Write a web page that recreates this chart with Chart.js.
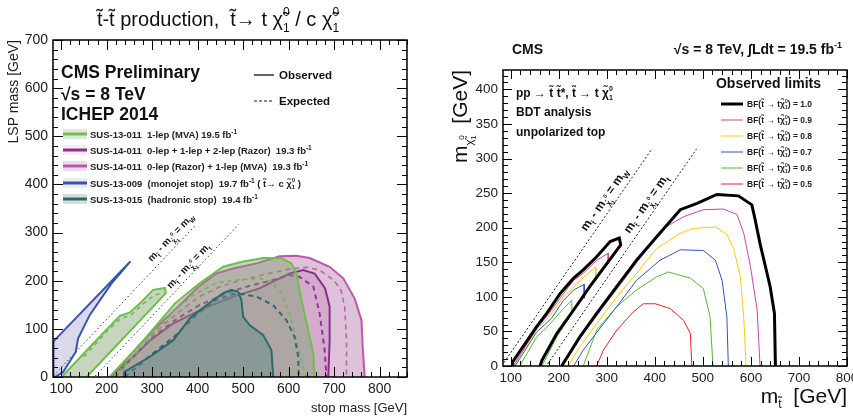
<!DOCTYPE html>
<html lang="en">
<head>
    <meta charset="UTF-8">
    <title>Stop pair production limits</title>
    <style>
        * { margin: 0; padding: 0; box-sizing: border-box; }
        body {
            width: 853px;
            height: 419px;
            overflow: hidden;
            background: #FFFFFF;
            position: relative;
            font-family: 'Liberation Sans', Arial, sans-serif;
        }
        .panel { position: absolute; top: 0; height: 419px; }
        #left { left: 0; width: 425px; }
        #right { left: 425px; width: 445px; }
    </style>
</head>
<body>
    <div class="panel" id="left"><canvas id="chart1"></canvas></div>
    <div class="panel" id="right"><canvas id="chart2"></canvas></div>

    <script src="https://cdn.jsdelivr.net/npm/chart.js@4.4.0/dist/chart.umd.min.js"></script>
    <script>
        // ---------- left panel: summary of limits (stop mass, LSP mass) ----------
        const leftXTicks = [100, 200, 300, 400, 500, 600, 700, 800];
        const leftYTicks = [0, 100, 200, 300, 400, 500, 600, 700];

        const sus13015Obs = [[236,0],[238,10],[295,42],[346,76],[383,122],[419,149],[456,174],[474,181],[489,177],[496,160],[500,125],[514,108],[544,87],[562,56],[566,0]];
        const sus13015Exp = [[240,0],[300,48],[350,85],[400,132],[440,160],[485,174],[529,167],[566,149],[595,118],[613,83],[621,42],[622,0]];
        const sus13011Obs = [[207,0],[280,75],[350,153],[390,184],[405,195],[456,229],[500,240],[544,247],[584,247],[606,236],[617,215],[628,160],[643,97],[654,49],[657,0]];
        const sus13011Exp = [[215,0],[290,75],[350,140],[390,170],[441,195],[478,201],[536,205],[562,198],[584,174],[602,132],[617,76],[628,35],[639,0]];
        const sus13011LowObs = [[101,0],[170,69],[229,127],[251,134],[273,153],[302,181],[328,185],[330,174],[156,0]];
        const sus13011LowExp = [[150,42],[200,95],[229,120],[255,130],[280,152],[305,170],[325,176]];
        const sus14011CombObs = [[207,0],[258,42],[295,76],[346,111],[405,139],[478,167],[536,184],[580,205],[602,215],[632,222],[657,215],[680,184],[690,146],[690,76],[687,0]];
        const sus14011CombExp = [[215,0],[262,45],[300,82],[350,118],[405,150],[450,168],[500,186],[560,200],[602,212],[624,208],[654,188],[668,132],[679,56],[683,0]];
        const sus14011MvaObs = [[207,0],[300,95],[350,140],[400,186],[441,215],[480,226],[530,236],[580,251],[617,252],[646,247],[690,229],[720,205],[745,163],[760,118],[763,56],[767,0]];
        const sus14011MvaExp = [[220,0],[300,88],[350,128],[400,165],[450,188],[500,202],[550,214],[600,224],[640,228],[668,222],[700,200],[715,180],[723,146],[727,76],[727,0]];
        const sus13009Obs = [[83,0],[83,74],[252,240],[233,219],[211,195],[163,129],[137,80],[132,52],[104,10],[86,0]];
        const leftMW = [[83,3],[397,317]];
        const leftMT = [[175,2],[490,317]];

        const leftLegendLabels = [
            'SUS-13-011  1-lep (MVA) 19.5 fb',
            'SUS-14-011  0-lep + 1-lep + 2-lep (Razor)  19.3 fb',
            'SUS-14-011  0-lep (Razor) + 1-lep (MVA)  19.3 fb',
            'SUS-13-009  (monojet stop)  19.7 fb',
            'SUS-13-015  (hadronic stop)  19.4 fb'
        ];

        // ---------- right panel: BDT analysis observed limits ----------
        const rightXTicks = [100, 200, 300, 400, 500, 600, 700, 800];
        const rightYTicks = [0, 50, 100, 150, 200, 250, 300, 350, 400];
        const bfLabels = ['1.0', '0.9', '0.8', '0.7', '0.6', '0.5'];

        const bf10Low = [[104,0],[104,6],[154,57],[175,76],[203,105],[231,127],[251,139],[279,158],[307,180],[326,185],[329,175],[265,115],[231,81],[196,47],[165,8],[161,0]];
        const bf10High = [[206,0],[244,42],[279,76],[321,115],[362,153],[404,187],[453,226],[488,235],[529,248],[574,246],[602,233],[609,211],[619,177],[640,115],[649,76],[651,0]];
        const bf09Low = [[106,1],[154,54],[182,78],[210,105],[231,124],[251,134],[279,153],[303,163],[303,152]];
        const bf09High = [[206,0],[244,40],[293,86],[335,124],[369,156],[383,169],[418,199],[460,216],[501,226],[543,227],[571,219],[585,192],[599,144],[613,81],[619,0]];
        const bf08Low = [[106,0],[154,52],[182,73],[210,100],[238,119],[258,132],[277,143],[277,124]];
        const bf08High = [[219,0],[244,28],[279,61],[321,100],[362,134],[404,170],[453,192],[481,199],[526,201],[550,190],[564,170],[578,129],[585,71],[590,0]];
        const bf07Low = [[109,0],[154,49],[185,69],[210,95],[231,110],[253,118],[253,98]];
        const bf07High = [[231,0],[251,23],[293,61],[321,86],[362,124],[411,153],[453,168],[501,167],[526,153],[540,124],[550,71],[553,0]];
        const bf06Low = [[119,0],[154,42],[182,61],[210,83],[227,95],[228,76],[196,42],[165,0]];
        const bf06High = [[251,0],[279,52],[321,86],[362,110],[404,129],[428,136],[474,127],[501,112],[515,71],[521,0]];
        const bf05High = [[279,0],[293,23],[321,52],[355,78],[376,90],[401,90],[432,83],[460,66],[474,47],[477,0]];
        const rightMW = [[86,5],[394,314]];
        const rightMT = [[177,3],[487,314]];

        const FONT = "'Liberation Sans', Arial, sans-serif";
        const pts = arr => arr.map(p => ({ x: p[0], y: p[1] }));

        // draws text made of pieces: [text, size, dy, bold, advance]
        function rich(ctx, segs, x, y, align) {
            let w = 0;
            segs.forEach(s => {
                ctx.font = (s[3] ? 'bold ' : '') + s[1] + 'px ' + FONT;
                if (s[4] !== false) w += ctx.measureText(s[0]).width;
            });
            let cx = align === 'center' ? x - w / 2 : align === 'right' ? x - w : x;
            ctx.textAlign = 'left';
            ctx.textBaseline = 'alphabetic';
            segs.forEach(s => {
                ctx.font = (s[3] ? 'bold ' : '') + s[1] + 'px ' + FONT;
                ctx.fillText(s[0], cx, y + (s[2] || 0));
                if (s[4] !== false) cx += ctx.measureText(s[0]).width;
            });
        }

        function chi(size, bold) {
            const s = Math.round(size * 0.62);
            return [['\u03C7\u0303', size, 0, bold], ['0', s, -size * 0.5, bold, false], ['1', s, size * 0.28, bold]];
        }

        // ROOT style frame with inside ticks
        function frameTicks(chart, xMajor, xMinor, yMajor, yMinor, lenMaj, lenMin, lw) {
            const { ctx, chartArea: a, scales: { x, y } } = chart;
            ctx.save();
            ctx.strokeStyle = '#000';
            ctx.lineWidth = 1;
            ctx.beginPath();
            for (let v = Math.ceil(x.min / xMinor) * xMinor; v <= x.max; v += xMinor) {
                const px = Math.round(x.getPixelForValue(v)) + 0.5;
                const l = v % xMajor === 0 ? lenMaj : lenMin;
                ctx.moveTo(px, a.bottom); ctx.lineTo(px, a.bottom - l);
                ctx.moveTo(px, a.top); ctx.lineTo(px, a.top + l);
            }
            for (let v = Math.ceil(y.min / yMinor) * yMinor; v <= y.max; v += yMinor) {
                const py = Math.round(y.getPixelForValue(v)) + 0.5;
                const l = v % yMajor === 0 ? lenMaj : lenMin;
                ctx.moveTo(a.left, py); ctx.lineTo(a.left + l, py);
                ctx.moveTo(a.right, py); ctx.lineTo(a.right - l, py);
            }
            ctx.stroke();
            ctx.lineWidth = lw;
            ctx.strokeRect(a.left, a.top, a.right - a.left, a.bottom - a.top);
            ctx.restore();
        }

        function diagLabel(chart, pt, segs, dx, dy) {
            const { ctx, scales: { x, y } } = chart;
            const ang = Math.atan2(y.getPixelForValue(100) - y.getPixelForValue(0), x.getPixelForValue(100) - x.getPixelForValue(0));
            ctx.save();
            ctx.translate(x.getPixelForValue(pt[0]) + dx, y.getPixelForValue(pt[1]) + dy);
            ctx.rotate(ang);
            ctx.fillStyle = '#111';
            rich(ctx, segs, 0, 0, 'left');
            ctx.restore();
        }

        function line(data, color, width, dash, fillColor) {
            return {
                data: pts(data),
                showLine: true,
                borderColor: color,
                borderWidth: width,
                borderDash: dash || [],
                backgroundColor: fillColor || 'transparent',
                fill: fillColor ? 'shape' : false,
                pointRadius: 0,
                tension: 0
            };
        }

        function axes(xmin, xmax, ymin, ymax, xstep, ystep, size, yWidth, xHeight) {
            const tickFont = { family: FONT, size: size };
            return {
                x: {
                    type: 'linear', min: xmin, max: xmax,
                    grid: { display: false, drawTicks: false }, border: { display: false },
                    ticks: { stepSize: xstep, includeBounds: false, font: tickFont, color: '#222', padding: 4, maxRotation: 0 },
                    afterFit: s => { s.height = xHeight; }
                },
                y: {
                    type: 'linear', min: ymin, max: ymax,
                    grid: { display: false, drawTicks: false }, border: { display: false },
                    ticks: { stepSize: ystep, includeBounds: false, font: tickFont, color: '#222', padding: 5 },
                    afterFit: s => { s.width = yWidth; }
                }
            };
        }

        const baseOptions = {
            responsive: true,
            maintainAspectRatio: false,
            animation: false,
            plugins: { legend: { display: false }, tooltip: { enabled: false } }
        };

        const leftColors = [
            { line: '#6cc04a', fill: 'rgba(130,160,110,0.45)' },
            { line: '#8e2c8e', fill: 'rgba(170,80,160,0.2)' },
            { line: '#c154ac', fill: 'rgba(180,120,170,0.45)' },
            { line: '#3c53ac', fill: 'rgba(130,130,190,0.3)' },
            { line: '#2e6a68', fill: 'rgba(100,140,140,0.5)' }
        ];

        const leftPlugin = {
            id: 'leftDecor',
            afterDraw(chart) {
                const { ctx } = chart;
                frameTicks(chart, 100, 20, 100, 20, 10, 5, 1.5);
                ctx.save();
                ctx.fillStyle = '#111';
                // title
                rich(ctx, [['t\u0303-t\u0303 production,  t\u0303\u2192 t ', 20, 0]].concat(chi(20), [[' / c ', 20, 0]], chi(20)), 218, 26, 'center');
                rich(ctx, [['CMS Preliminary', 17.5, 0, true]], 61, 78, 'left');
                rich(ctx, [['\u221As = 8 TeV', 17.5, 0, true]], 61, 100, 'left');
                rich(ctx, [['ICHEP 2014', 17.5, 0, true]], 61, 120, 'left');
                rich(ctx, [['Observed', 11.5, 0, true]], 279, 79, 'left');
                rich(ctx, [['Expected', 11.5, 0, true]], 279, 105, 'left');
                ctx.strokeStyle = '#111';
                ctx.lineWidth = 1.3;
                ctx.beginPath(); ctx.moveTo(254, 75); ctx.lineTo(274, 75); ctx.stroke();
                ctx.strokeStyle = '#666';
                ctx.setLineDash([3, 2]);
                ctx.beginPath(); ctx.moveTo(254, 101); ctx.lineTo(274, 101); ctx.stroke();
                ctx.setLineDash([]);
                // legend of analyses
                const ys = [134, 150, 166, 183, 199];
                leftLegendLabels.forEach((lab, i) => {
                    ctx.globalAlpha = 0.55;
                    ctx.fillStyle = leftColors[i].fill;
                    ctx.fillRect(63, ys[i] - 5, 24, 10);
                    ctx.globalAlpha = 1;
                    ctx.strokeStyle = leftColors[i].line;
                    ctx.lineWidth = 3;
                    ctx.beginPath(); ctx.moveTo(63, ys[i]); ctx.lineTo(87, ys[i]); ctx.stroke();
                    ctx.fillStyle = '#222';
                    let segs = [[lab, 9.5, 0, true], ['-1', 6.5, -4, true]];
                    if (i === 3) segs = segs.concat([[' ( t\u0303\u2192 c ', 9.5, 0, true]], chi(9.5, true), [[' )', 9.5, 0, true]]);
                    rich(ctx, segs, 90, ys[i] + 3.5, 'left');
                });
                // axis titles
                ctx.fillStyle = '#222';
                rich(ctx, [['stop mass [GeV]', 13, 0]], 407, 412, 'right');
                ctx.save();
                ctx.translate(18, 40);
                ctx.rotate(-Math.PI / 2);
                rich(ctx, [['LSP mass [GeV]', 14, 0]], 0, 0, 'right');
                ctx.restore();
                // kinematic line labels
                const mw = [['m', 10, 0, true], ['t\u0303', 6.5, 3, true], [' - m', 10, 0, true], ['\u03C7\u0303', 6.5, 3.5, true], ['0', 5, -3, true, false], ['1', 5, 6, true], [' = m', 10, 0, true], ['W', 6.5, 3, true]];
                const mt = [['m', 10, 0, true], ['t\u0303', 6.5, 3, true], [' - m', 10, 0, true], ['\u03C7\u0303', 6.5, 3.5, true], ['0', 5, -3, true, false], ['1', 5, 6, true], [' = m', 10, 0, true], ['t', 6.5, 3, true]];
                diagLabel(chart, [319, 239], mw, -9, 0);
                diagLabel(chart, [356, 183], mt, -7, 0);
                ctx.restore();
            }
        };

        new Chart(document.getElementById('chart1'), {
            type: 'scatter',
            data: {
                datasets: [
                    line(sus13015Obs, leftColors[4].line, 2, null, leftColors[4].fill),
                    line(sus13015Exp, leftColors[4].line, 2, [5, 4]),
                    line(sus13011Obs, leftColors[0].line, 2, null, leftColors[0].fill),
                    line(sus13011Exp, leftColors[0].line, 1.6, [4, 4]),
                    line(sus13011LowObs, leftColors[0].line, 2, null, leftColors[0].fill),
                    line(sus13011LowExp, leftColors[0].line, 1.6, [4, 4]),
                    line(sus14011CombObs, leftColors[1].line, 2, null, leftColors[1].fill),
                    line(sus14011CombExp, leftColors[1].line, 2, [5, 4]),
                    line(sus14011MvaObs, leftColors[2].line, 2, null, leftColors[2].fill),
                    line(sus14011MvaExp, leftColors[2].line, 1.6, [5, 4]),
                    line(sus13009Obs, leftColors[3].line, 2, null, leftColors[3].fill),
                    line(leftMW, '#333', 1, [1.5, 2.5]),
                    line(leftMT, '#333', 1, [1.5, 2.5])
                ]
            },
            options: {
                ...baseOptions,
                layout: { padding: { top: 40, right: 18, left: 0, bottom: 0 } },
                scales: axes(82, 860, 0, 700, 100, 100, 14, 53, 42)
            },
            plugins: [leftPlugin]
        });

        const bfColors = ['#000000', '#cc44aa', '#ffcc00', '#3355bb', '#55bb33', '#ee2222'];

        const rightPlugin = {
            id: 'rightDecor',
            afterDraw(chart) {
                const { ctx } = chart;
                frameTicks(chart, 100, 20, 50, 10, 9, 5, 1.5);
                ctx.save();
                ctx.fillStyle = '#111';
                rich(ctx, [['CMS', 14, 0, true]], 87, 54, 'left');
                rich(ctx, [['\u221As = 8 TeV, \u222BLdt = 19.5 fb', 14, 0, true], ['-1', 9, -6, true]], 417, 54, 'right');
                rich(ctx, [['pp \u2192 t\u0303 t\u0303*, t\u0303 \u2192 t ', 12, 0, true]].concat(chi(12, true)), 91, 97, 'left');
                rich(ctx, [['BDT analysis', 12, 0, true]], 91, 116, 'left');
                rich(ctx, [['unpolarized top', 12, 0, true]], 91, 136, 'left');
                rich(ctx, [['Observed limits', 14, 0, true]], 396, 88, 'right');
                const ys = [104, 120, 136, 152, 168, 184];
                bfLabels.forEach((b, i) => {
                    ctx.strokeStyle = bfColors[i];
                    ctx.lineWidth = i === 0 ? 3 : 1;
                    ctx.beginPath(); ctx.moveTo(296, ys[i]); ctx.lineTo(318, ys[i]); ctx.stroke();
                    ctx.fillStyle = '#222';
                    rich(ctx, [['BF(t\u0303 \u2192 t', 8.5, 0, true]].concat(chi(8.5, true), [[') = ' + b, 8.5, 0, true]]), 322, ys[i] + 3, 'left');
                });
                // axis titles
                ctx.fillStyle = '#111';
                rich(ctx, [['m', 21, 0], ['t\u0303', 12, 5], ['  [GeV]', 21, 0]], 422, 403, 'right');
                ctx.save();
                ctx.translate(42, 70);
                ctx.rotate(-Math.PI / 2);
                rich(ctx, [['m', 21, 0], ['\u03C7\u0303', 11, 6], ['0', 8, -3, false, false], ['1', 8, 9], ['  [GeV]', 21, 0]], 0, 0, 'right');
                ctx.restore();
                const mw = [['m', 12, 0, true], ['t\u0303', 7, 3.5, true], [' - m', 12, 0, true], ['\u03C7\u0303', 7, 4, true], ['0', 5.5, -3, true, false], ['1', 5.5, 7, true], [' = m', 12, 0, true], ['W', 8, 3.5, true]];
                const mt = [['m', 12, 0, true], ['t\u0303', 7, 3.5, true], [' - m', 12, 0, true], ['\u03C7\u0303', 7, 4, true], ['0', 5.5, -3, true, false], ['1', 5.5, 7, true], [' = m', 12, 0, true], ['t', 8, 3.5, true]];
                diagLabel(chart, [274, 194], mw, -8, 0);
                diagLabel(chart, [364, 191], mt, -8, 0);
                ctx.restore();
            }
        };

        new Chart(document.getElementById('chart2'), {
            type: 'scatter',
            data: {
                datasets: [
                    line(bf10Low, bfColors[0], 3),
                    line(bf10High, bfColors[0], 3),
                    line(bf09Low, bfColors[1], 1),
                    line(bf09High, bfColors[1], 1),
                    line(bf08Low, bfColors[2], 1),
                    line(bf08High, bfColors[2], 1),
                    line(bf07Low, bfColors[3], 1),
                    line(bf07High, bfColors[3], 1),
                    line(bf06Low, bfColors[4], 1),
                    line(bf06High, bfColors[4], 1),
                    line(bf05High, bfColors[5], 1),
                    line(rightMW, '#222', 1, [2, 2]),
                    line(rightMT, '#222', 1, [2, 2])
                ]
            },
            options: {
                ...baseOptions,
                layout: { padding: { top: 70, right: 23, left: 0, bottom: 0 } },
                scales: axes(84, 800, 0, 428, 100, 50, 13.5, 78, 53)
            },
            plugins: [rightPlugin]
        });
    </script>
</body>
</html>
